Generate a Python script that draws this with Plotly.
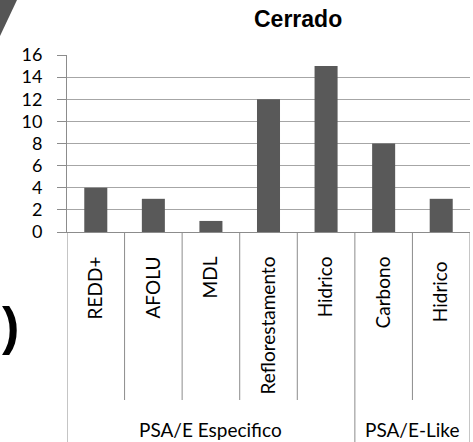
import plotly.graph_objects as go

categories = ["REDD+", "AFOLU", "MDL", "Reflorestamento", "Hidrico", "Carbono", "Hidrico "]
groups = ["PSA/E Especifico", "PSA/E-Like"]
group_sizes = [5, 2]
values = [4, 3, 1, 12, 15, 8, 3]
y_ticks = [0, 2, 4, 6, 8, 10, 12, 14, 16]

W, H = 473, 442
L, R, T, B = 67, 3, 55, 210
plot_h = H - T - B


def py(pix):
    return (H - B - pix) / plot_h


def px(pix):
    return (pix - L) / (W - L - R)


fig = go.Figure()
fig.add_trace(go.Bar(x=categories, y=values, marker=dict(color="#595959", line=dict(width=0)),
                     width=0.4, showlegend=False, hoverinfo="skip"))

shapes = []
n = len(categories)
group_edges = [0]
for s in group_sizes:
    group_edges.append(group_edges[-1] + s)
for i in range(n + 1):
    xpos = i - 0.5
    outer = i in group_edges
    shapes.append(dict(type="line", xref="x", yref="paper", x0=xpos, x1=xpos,
                       y0=0, y1=py(442) if outer else py(400),
                       line=dict(color="#8c8c8c", width=1)))
shapes.append(dict(type="path", xref="paper", yref="paper",
                   path=f"M {px(0)},{py(0)} L {px(17)},{py(0)} L {px(0)},{py(36)} Z",
                   fillcolor="#555555", line=dict(width=0)))

annotations = []
start = 0
for g, s in zip(groups, group_sizes):
    center = start + (s - 1) / 2
    annotations.append(dict(text=g, xref="x", yref="paper", x=center, y=py(429),
                            showarrow=False, font=dict(family="Lato", size=19, color="#000"),
                            xanchor="center", yanchor="middle"))
    start += s
annotations.append(dict(text="<b>Cerrado</b>", xref="paper", yref="paper",
                        x=px(298), y=py(19), showarrow=False,
                        font=dict(family="Liberation Sans", size=23, color="#000"),
                        xanchor="center", yanchor="middle"))
annotations.append(dict(text="<b>)</b>", xref="paper", yref="paper",
                        x=px(10), y=py(326), showarrow=False,
                        font=dict(family="Liberation Sans", size=52, color="#000"),
                        xanchor="center", yanchor="middle"))

fig.update_layout(
    width=W, height=H,
    margin=dict(l=L, r=R, t=T, b=B, pad=0),
    paper_bgcolor="white", plot_bgcolor="white",
    shapes=shapes, annotations=annotations,
    xaxis=dict(type="category", tickangle=-90, showgrid=False, ticks="",
               showline=True, linecolor="#8c8c8c", linewidth=1, automargin=False,
               tickfont=dict(family="Lato", size=19, color="#000"),
               ticklabelstandoff=16, range=[-0.5, n - 0.5]),
    yaxis=dict(range=[0, 16], tickvals=y_ticks, showgrid=True, gridcolor="#a6a6a6", gridwidth=1,
               ticks="outside", ticklen=9, tickcolor="#8c8c8c", automargin=False,
               showline=True, linecolor="#8c8c8c", linewidth=1, zeroline=False,
               tickfont=dict(family="Lato", size=18, color="#000"), ticklabelstandoff=11),
)

fig.write_html("out.html", config={"displayModeBar": False},
               post_script="document.body.style.margin='0';document.body.style.overflow='hidden';")
